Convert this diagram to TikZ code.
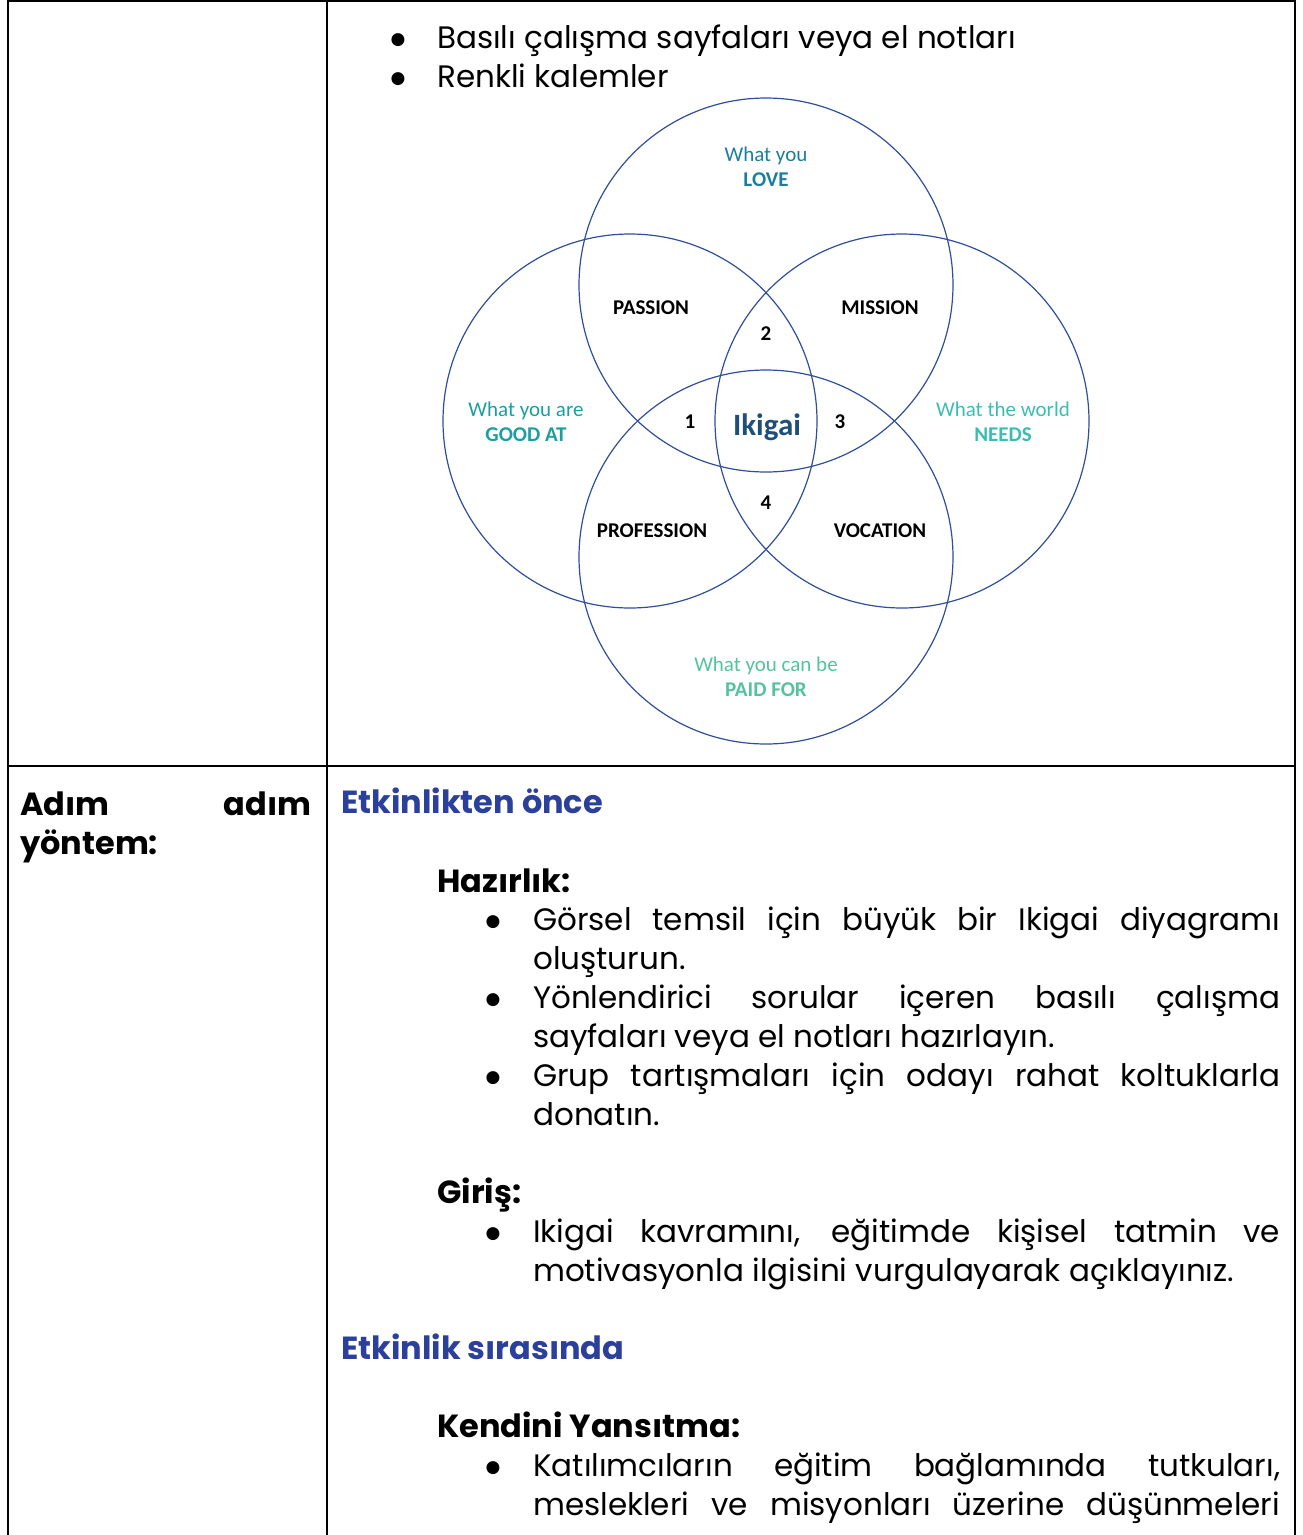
\documentclass[tikz,border=0pt]{standalone}
\usepackage{fontspec}
\setmainfont{Poppins}
\newfontfamily\vennfont{Carlito}
\newfontfamily\symfont{DejaVu Sans}
\usetikzlibrary{positioning}
\hyphenpenalty=10000
\exhyphenpenalty=10000
\definecolor{ringblue}{HTML}{2F4E9A}
\definecolor{lovecol}{HTML}{1A7F9C}
\definecolor{goodcol}{HTML}{1A9FA0}
\definecolor{needcol}{HTML}{3CBDB2}
\definecolor{paidcol}{HTML}{55C29E}
\definecolor{ikigaicol}{HTML}{1F4E79}
\definecolor{headblue}{HTML}{2B409A}

\begin{document}
\begin{tikzpicture}[x=1pt,y=-1pt,
  rule/.style={line width=2.4pt,black},
  ring/.style={circle,draw=ringblue,line width=1.2pt,minimum size=374pt,inner sep=0pt},
  txt/.style={inner sep=0pt,font=\fontsize{31}{39}\selectfont},
  para/.style={txt,text width=747pt,align=justify,anchor=base west},
  dot/.style={inner sep=0pt,anchor=base,yshift=4pt,font=\symfont\fontsize{17}{20}\selectfont},
  head/.style={inner sep=0pt,anchor=base west,font=\fontsize{32}{39}\selectfont\bfseries},
  venn/.style={inner sep=0pt,align=center,font=\vennfont\fontsize{21}{25}\selectfont},
  zone/.style={inner sep=0pt,font=\vennfont\fontsize{21}{22}\selectfont\bfseries}]
\useasboundingbox (0,0) rectangle (1303,1535);

% table rules
\draw[rule] (8,1) -- (1295,1);
\draw[rule] (8,0) -- (8,1535);
\draw[rule] (1295,0) -- (1295,1535);
\draw[rule] (327,0) -- (327,1535);
\draw[rule] (8,766) -- (1295,766);

% materials
\node[dot] (d0) at (398,48) {●};
\node[txt,anchor=base west] (mat1) at (437,48) {Basılı çalışma sayfaları veya el notları};
\node[dot] (d00) at (398,87) {●};
\node[txt,anchor=base west] (mat2) at (437,87) {Renkli kalemler};

% ikigai circles
\node[ring] (love) at (766,285) {};
\node[ring] (good) at (630,421) {};
\node[ring] (needs) at (902,421) {};
\node[ring] (paid) at (766,557) {};

\node[venn,text=lovecol] (lovet) at (766,167) {What you\\\textbf{LOVE}};
\node[venn,text=goodcol] (goodt) at (526,422) {What you are\\\textbf{GOOD AT}};
\node[venn,text=needcol] (needt) at (1003,422) {What the world\\\textbf{NEEDS}};
\node[venn,text=paidcol] (paidt) at (766,677) {What you can be\\\textbf{PAID FOR}};

\node[zone] (passion) at (651,308) {PASSION};
\node[zone] (mission) at (880,308) {MISSION};
\node[zone] (profession) at (652,531) {PROFESSION};
\node[zone] (vocation) at (880,531) {VOCATION};
\node[zone] (n2) at (766,334) {2};
\node[zone] (n1) at (690,422) {1};
\node[zone] (n3) at (840,422) {3};
\node[zone] (n4) at (766,503) {4};
\node[zone,text=ikigaicol,font=\vennfont\fontsize{31}{32}\selectfont\bfseries] (ikigai) at (767,427) {Ikigai};

% step by step
\node[head,text width=291pt,align=justify] (method) at (20,815) {Adım adım\linebreak yöntem:};
\node[head,text=headblue] (before) at (341,813) {Etkinlikten önce};
\node[head] (prep) at (437,892) {Hazırlık:};
\node[dot] (d1) at (493,930) {●};
\node[para] (p1) at (533,930) {Görsel temsil için büyük bir Ikigai diyagramı\linebreak oluşturun.};
\node[dot] (d2) at (493,1008) {●};
\node[para] (p2) at (533,1008) {Yönlendirici sorular içeren basılı çalışma\linebreak sayfaları veya el notları hazırlayın.};
\node[dot] (d3) at (493,1086) {●};
\node[para] (p3) at (533,1086) {Grup tartışmaları için odayı rahat koltuklarla\linebreak donatın.};
\node[head] (intro) at (437,1203) {Giriş:};
\node[dot] (d4) at (493,1242) {●};
\node[para] (p4) at (533,1242) {Ikigai kavramını, eğitimde kişisel tatmin ve\linebreak motivasyonla ilgisini vurgulayarak açıklayınız.};
\node[head,text=headblue] (during) at (341,1359) {Etkinlik sırasında};
\node[head] (reflect) at (437,1437) {Kendini Yansıtma:};
\node[dot] (d5) at (493,1476) {●};
\node[para] (p5) at (533,1476) {Katılımcıların eğitim bağlamında tutkuları,\linebreak meslekleri ve misyonları üzerine düşünmeleri{\parfillskip=0pt\par}};
\end{tikzpicture}
\end{document}
